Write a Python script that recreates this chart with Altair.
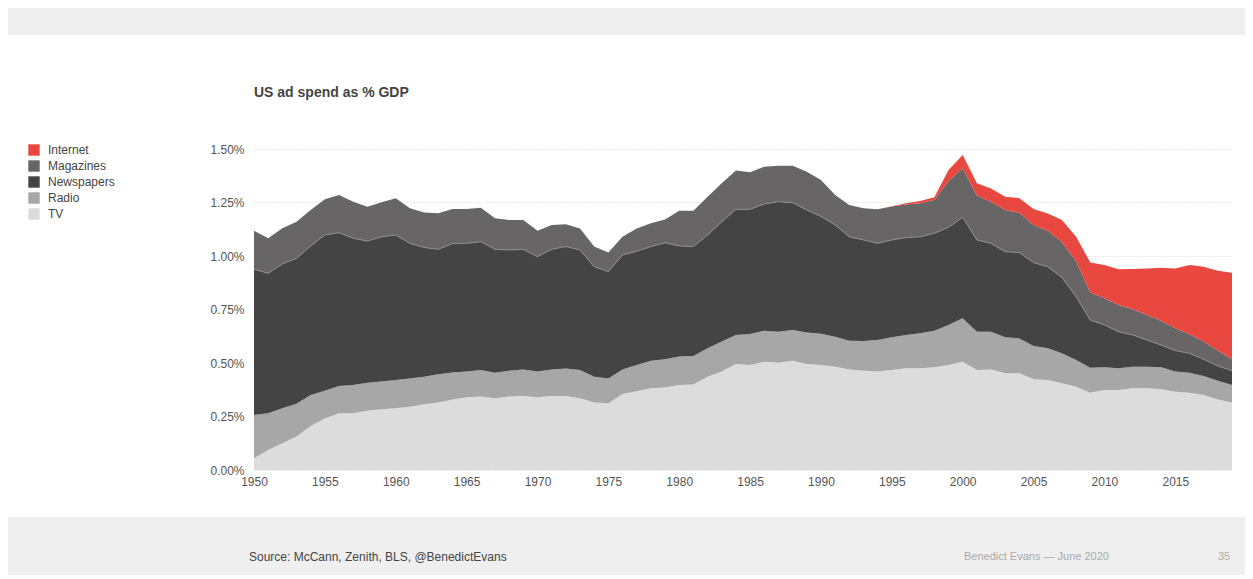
import altair as alt
import pandas as pd

years = list(range(1950, 2020))
tv = [0.055, 0.093, 0.125, 0.156, 0.206, 0.241, 0.265, 0.265, 0.277, 0.284,
      0.288, 0.296, 0.307, 0.315, 0.330, 0.340, 0.343, 0.335, 0.343, 0.346,
      0.340, 0.346, 0.346, 0.335, 0.315, 0.312, 0.355, 0.368, 0.382, 0.386,
      0.397, 0.400, 0.436, 0.460, 0.495, 0.491, 0.506, 0.501, 0.511, 0.495,
      0.491, 0.483, 0.470, 0.464, 0.460, 0.467, 0.475, 0.475, 0.480, 0.491,
      0.506, 0.467, 0.470, 0.452, 0.452, 0.424, 0.421, 0.405, 0.389, 0.361,
      0.374, 0.374, 0.382, 0.382, 0.377, 0.366, 0.361, 0.350, 0.330, 0.315]
radio = [0.202, 0.172, 0.163, 0.154, 0.144, 0.129, 0.128, 0.132, 0.131, 0.129,
         0.132, 0.132, 0.129, 0.132, 0.126, 0.120, 0.124, 0.120, 0.121, 0.124,
         0.120, 0.124, 0.128, 0.132, 0.121, 0.116, 0.115, 0.123, 0.129, 0.131,
         0.133, 0.133, 0.133, 0.140, 0.136, 0.145, 0.145, 0.145, 0.143, 0.147,
         0.146, 0.140, 0.134, 0.139, 0.147, 0.153, 0.156, 0.164, 0.171, 0.187,
         0.203, 0.179, 0.176, 0.168, 0.163, 0.155, 0.148, 0.140, 0.125, 0.117,
         0.106, 0.101, 0.101, 0.101, 0.103, 0.094, 0.094, 0.089, 0.087, 0.082]
newspapers = [0.681, 0.654, 0.675, 0.679, 0.697, 0.728, 0.716, 0.686, 0.662, 0.677,
              0.678, 0.631, 0.604, 0.584, 0.602, 0.599, 0.600, 0.576, 0.564, 0.561,
              0.537, 0.561, 0.570, 0.561, 0.514, 0.499, 0.535, 0.531, 0.533, 0.545,
              0.517, 0.511, 0.529, 0.560, 0.587, 0.582, 0.592, 0.608, 0.595, 0.573,
              0.548, 0.522, 0.486, 0.472, 0.452, 0.455, 0.455, 0.451, 0.455, 0.456,
              0.472, 0.429, 0.413, 0.400, 0.401, 0.390, 0.381, 0.355, 0.296, 0.223,
              0.198, 0.171, 0.148, 0.124, 0.104, 0.098, 0.090, 0.078, 0.069, 0.067]
magazines = [0.180, 0.164, 0.167, 0.171, 0.168, 0.167, 0.176, 0.171, 0.160, 0.161,
             0.172, 0.164, 0.163, 0.169, 0.162, 0.161, 0.159, 0.145, 0.140, 0.137,
             0.121, 0.114, 0.104, 0.101, 0.094, 0.089, 0.085, 0.107, 0.109, 0.109,
             0.165, 0.168, 0.179, 0.180, 0.181, 0.173, 0.174, 0.168, 0.173, 0.179,
             0.170, 0.140, 0.148, 0.148, 0.159, 0.156, 0.155, 0.156, 0.156, 0.216,
             0.229, 0.208, 0.195, 0.195, 0.186, 0.176, 0.168, 0.165, 0.165, 0.128,
             0.124, 0.125, 0.120, 0.117, 0.114, 0.104, 0.089, 0.083, 0.072, 0.053]
internet_years = list(range(1994, 2020))
internet = [0.000, 0.002, 0.005, 0.011, 0.012, 0.052, 0.062, 0.057, 0.062, 0.062,
            0.068, 0.075, 0.081, 0.103, 0.115, 0.141, 0.156, 0.167, 0.188, 0.218,
            0.247, 0.280, 0.324, 0.350, 0.373, 0.405]

stack_order = ["TV", "Radio", "Newspapers", "Magazines", "Internet"]
legend_order = ["Internet", "Magazines", "Newspapers", "Radio", "TV"]
colors = ["#E8483F", "#676566", "#444444", "#A7A7A7", "#DCDCDC"]

rows = []
for name, yrs, vals in [("TV", years, tv), ("Radio", years, radio),
                        ("Newspapers", years, newspapers),
                        ("Magazines", years, magazines),
                        ("Internet", internet_years, internet)]:
    for yr, v in zip(yrs, vals):
        rows.append({"year": yr, "series": name, "value": v,
                     "rank": stack_order.index(name)})
df = pd.DataFrame(rows)

FONT = "Liberation Sans"
W, H = 978, 321

base = alt.Chart(df).transform_stack(
    stack="value", groupby=["year"],
    sort=[alt.SortField("rank", order="ascending")],
    as_=["v0", "v1"])

x = alt.X("year:Q", scale=alt.Scale(domain=[1950, 2019], nice=False, zero=False),
          axis=alt.Axis(values=list(range(1950, 2016, 5)), format="d", title=None,
                        grid=False, ticks=False, domain=False, labelColor="#555",
                        labelFontSize=12, labelPadding=6, labelFont=FONT,
                        labelFlush=False))
y = alt.Y("v1:Q", scale=alt.Scale(domain=[0, 1.5], nice=False),
          axis=alt.Axis(values=[0, 0.25, 0.5, 0.75, 1, 1.25, 1.5],
                        labelExpr="format(datum.value, '.2f') + '%'", title=None,
                        ticks=False, domain=False, grid=True, gridDash=[1, 2],
                        gridColor="#d6d6d6", labelColor="#555", labelFontSize=12,
                        labelPadding=10, labelFont=FONT))

area = base.mark_area(interpolate="linear").encode(
    x=x, y=y, y2="v0:Q",
    color=alt.Color("series:N", scale=alt.Scale(domain=legend_order, range=colors),
                    legend=alt.Legend(title=None, orient="none", legendX=-226, legendY=-5,
                                      symbolType="square", symbolSize=130,
                                      symbolStrokeWidth=0, labelFontSize=12,
                                      labelColor="#444", labelFont=FONT,
                                      rowPadding=4, labelOffset=8, padding=0)))

sep = base.transform_filter(alt.datum.series == "Newspapers").mark_line(
    color="#8d8d8d", strokeWidth=1).encode(x=x, y=y)

one = alt.Data(values=[{}])
top_band = alt.Chart(one).mark_rect(color="#EFEFEF").encode(
    x=alt.value(-246), x2=alt.value(991), y=alt.value(-141), y2=alt.value(-114))
bottom_band = alt.Chart(one).mark_rect(color="#EFEFEF").encode(
    x=alt.value(-246), x2=alt.value(991), y=alt.value(368), y2=alt.value(426))
title = alt.Chart(one).mark_text(
    text="US ad spend as % GDP", align="left", baseline="middle", fontSize=14,
    fontWeight="bold", color="#444", font=FONT).encode(x=alt.value(0), y=alt.value(-56))
source = alt.Chart(one).mark_text(
    text="Source: McCann, Zenith, BLS, @BenedictEvans", align="left",
    baseline="middle", fontSize=12, color="#444", font=FONT).encode(
    x=alt.value(-5), y=alt.value(408))
credit = alt.Chart(one).mark_text(
    text="Benedict Evans  —  June 2020", align="left", baseline="middle",
    fontSize=11, color="#aaa", font=FONT).encode(x=alt.value(710), y=alt.value(408))
page = alt.Chart(one).mark_text(
    text="35", align="left", baseline="middle", fontSize=11, color="#aaa",
    font=FONT).encode(x=alt.value(964), y=alt.value(408))

chart = alt.layer(top_band, bottom_band, area, sep, title, source, credit, page).properties(
    width=W, height=H,
    view=alt.ViewBackground(stroke="transparent", strokeWidth=0),
    autosize=alt.AutoSizeParams(type="none"),
    padding={"left": 254, "top": 149, "right": 21, "bottom": 109},
).configure_view(stroke="transparent", strokeWidth=0).configure(
    font=FONT, background="white",
    style={"cell": {"stroke": "transparent", "strokeWidth": 0}})

chart.save("out.html", embed_options={"renderer": "svg", "actions": False})
